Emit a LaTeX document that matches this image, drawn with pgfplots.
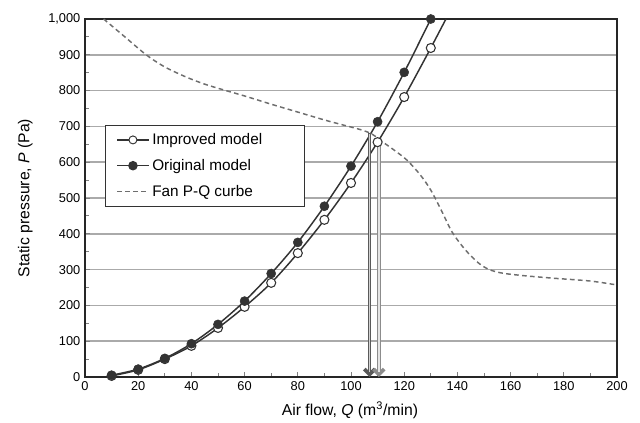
\documentclass[border=0pt]{standalone}
\usepackage{pgfplots}
\pgfplotsset{compat=1.18}
\usepackage{pgfplotstable}
\usepackage{fontspec}
\setmainfont{Liberation Sans}
\usetikzlibrary{arrows.meta}

\definecolor{curve}{HTML}{333333}
\definecolor{fan}{HTML}{6E6E6E}
\definecolor{gridc}{HTML}{AAAAAA}
\definecolor{arrowdark}{HTML}{5A5A5A}
\definecolor{arrowlight}{HTML}{8C8C8C}

% measured points
\pgfplotstableread{
x y
10 3
20 20
30 50
40 87
50 137
60 196
70 263
80 346
90 439
100 542
110 656
120 782
130 919
}\improved
\pgfplotstableread{
x y
10 5
20 22
30 52
40 93
50 147
60 212
70 289
80 376
90 477
100 589
110 713
120 851
130 1000
}\original
% fan P-Q curve
\pgfplotstableread{
x y
7 1000
15 950
23 900
30 866
38 838
45 818
53 800
60 785
70 762
80 740
90 718
97 704
104 690
108 678
112 656
116 635
121 606
126 565
130 522
134 465
138 405
143 355
148 318
152 300
157 290
165 283
176 276
190 268
200 257
}\fan

\begin{document}
\begin{tikzpicture}
\begin{axis}[
    scale only axis,
    width=399pt, height=268.5pt,
    xmin=0, xmax=200, ymin=0, ymax=1000,
    xtick={0,20,...,200},
    ytick={0,100,...,1000},
    minor x tick num=1,
    minor y tick num=1,
    tick align=inside,
    tick pos=left,
    major tick length=4pt,
    minor tick length=3pt,
    tick style={gray, line width=0.6pt},
    ymajorgrids,
    major grid style={gridc, line width=1.1pt},
    axis line style={black!85, line width=1.1pt},
    tick label style={font=\fontsize{9.6}{11}\selectfont},
    label style={font=\fontsize{11.8}{14}\selectfont},
    /pgf/number format/assume math mode=true,
    /pgf/number format/1000 sep={,},
    xlabel={Air flow, \textit{Q} (m\textsuperscript{3}/min)},
    ylabel={Static pressure, \textit{P} (Pa)},
    xlabel style={at={(axis description cs:0.498,-0.092)}, anchor=center},
    ylabel style={at={(axis description cs:-0.112,0.5)}, anchor=center},
    legend style={at={(0.038,0.704)}, anchor=north west, draw=black!80,
        line width=0.6pt, font=\fontsize{11.5}{13.5}\selectfont, row sep=5.5pt,
        inner xsep=8pt, inner ysep=4pt, cells={anchor=west}},
    legend image code/.code={%
        \draw[mark repeat=2, mark phase=2, #1]
        plot coordinates {(0cm,0cm) (0.42cm,0cm) (0.84cm,0cm)};},
]
\addlegendimage{curve, line width=1.1pt, mark=*, mark size=3pt,
    mark options={fill=white, line width=0.7pt}}
\addlegendentry{Improved model\rule{22pt}{0pt}}
\addlegendimage{curve, line width=1.1pt, mark=*, mark size=3pt,
    mark options={fill=curve}}
\addlegendentry{Original model}
\addlegendimage{fan, line width=1.1pt, dash pattern=on 3.5pt off 2.5pt}
\addlegendentry{Fan P-Q curbe}

\addplot[fan, line width=1.1pt, dash pattern=on 3.5pt off 2.5pt, smooth,
    forget plot] table {\fan};

\addplot[curve, line width=1.1pt, smooth, forget plot] table {\improved};
\addplot[curve, line width=1.1pt, forget plot] coordinates {(130,919) (135.7,1000)};
\addplot[curve, line width=1.1pt, smooth, forget plot] table {\original};

\addplot[only marks, mark=*, mark size=3.4pt,
    mark options={draw=curve, fill=white, line width=0.8pt}, forget plot]
    table {\improved};
\addplot[only marks, mark=*, mark size=3.4pt,
    mark options={draw=curve, fill=curve}, forget plot]
    table {\original};

% operating points
\draw[line width=2.8pt, arrowdark, -{Straight Barb[length=4pt, width=8pt]}]
    (axis cs:107,681) -- (axis cs:107,0);
\draw[line width=1.1pt, gray!35] (axis cs:107,679) -- (axis cs:107,14);
\draw[line width=2.8pt, arrowlight, -{Straight Barb[length=4pt, width=8pt]}]
    (axis cs:110.5,656) -- (axis cs:110.5,0);
\draw[line width=1.1pt, gray!20] (axis cs:110.5,654) -- (axis cs:110.5,14);
\end{axis}
\path ([shift={(-63.75pt,-32.25pt)}]current axis.south west)
    rectangle ([shift={(17.25pt,14.25pt)}]current axis.north east);
\end{tikzpicture}
\end{document}
